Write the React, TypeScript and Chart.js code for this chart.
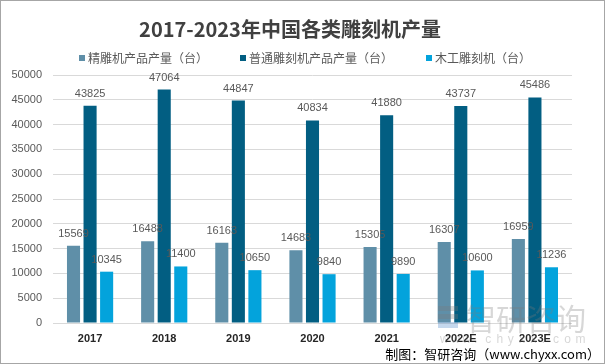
import React, { useEffect, useRef } from "react";
import { Chart, registerables } from "chart.js";

Chart.register(...registerables);

const title = "2017-2023年中国各类雕刻机产量";
const categories = ["2017", "2018", "2019", "2020", "2021", "2022E", "2023E"];
const seriesNames = ["精雕机产品产量（台）", "普通雕刻机产品产量（台）", "木工雕刻机（台）"];
const fineEngraving = [15569, 16488, 16163, 14683, 15305, 16307, 16959];
const generalEngraving = [43825, 47064, 44847, 40834, 41880, 43737, 45486];
const woodEngraving = [10345, 11400, 10650, 9840, 9890, 10600, 11236];
const seriesColors = ["#5F8FA8", "#025E82", "#03A3DC"];
const yMax = 50000;
const yStep = 5000;
const footer = "制图：智研咨询（www.chyxx.com）";

const NUM_FONT = '"Liberation Sans", "Noto Sans CJK SC", sans-serif';
const CJK_FONT = '"Noto Sans CJK SC", "Liberation Sans", sans-serif';

const decorPlugin = {
  id: "decor",
  beforeDraw(chart: any) {
    const ctx = chart.ctx;
    ctx.save();
    ctx.fillStyle = "#ffffff";
    ctx.fillRect(0, 0, chart.width, chart.height);
    ctx.restore();
  },
  afterDatasetsDraw(chart: any) {
    const ctx = chart.ctx;
    ctx.save();
    ctx.font = `11px ${NUM_FONT}`;
    ctx.fillStyle = "#595959";
    ctx.textAlign = "center";
    ctx.textBaseline = "alphabetic";
    chart.data.datasets.forEach((ds: any, i: number) => {
      const meta = chart.getDatasetMeta(i);
      meta.data.forEach((bar: any, j: number) => {
        ctx.fillText(String(ds.data[j]), bar.x, bar.y - 9);
      });
    });
    ctx.restore();
  },
  afterDraw(chart: any) {
    const ctx = chart.ctx;
    ctx.save();
    // title
    ctx.font = `bold 20px ${CJK_FONT}`;
    ctx.fillStyle = "#404040";
    ctx.textAlign = "center";
    ctx.textBaseline = "middle";
    ctx.fillText(title, 290, 29);

    // legend
    ctx.font = `12px ${CJK_FONT}`;
    ctx.textAlign = "left";
    const legendX = [79, 240, 426];
    seriesNames.forEach((name, i) => {
      ctx.fillStyle = seriesColors[i];
      ctx.fillRect(legendX[i], 55, 6, 6);
      ctx.fillStyle = "#595959";
      ctx.fillText(name, legendX[i] + 9, 58.5);
    });

    // watermark
    ctx.globalAlpha = 0.3;
    ctx.fillStyle = "#7a7a7a";
    ctx.fillRect(438, 306, 20, 5);
    ctx.fillRect(438, 314, 20, 5);
    ctx.fillStyle = "#3f7fc4";
    ctx.fillRect(438, 322, 20, 6);
    ctx.fillStyle = "#7a7a7a";
    ctx.font = `30px ${CJK_FONT}`;
    ctx.textBaseline = "middle";
    ctx.fillText("智研咨询", 466, 319);
    ctx.font = `12px ${NUM_FONT}`;
    const wm = "www.chyxx.com";
    for (let k = 0; k < wm.length; k++) {
      ctx.fillText(wm[k], 440 + k * 11.3, 340);
    }
    ctx.globalAlpha = 1;

    // footer
    ctx.font = `13px ${CJK_FONT}`;
    ctx.fillStyle = "#000000";
    ctx.textAlign = "right";
    ctx.fillText(footer, 600, 354);

    // frame
    ctx.strokeStyle = "#A6A6A6";
    ctx.lineWidth = 1;
    ctx.strokeRect(0.5, 0.5, chart.width - 1, chart.height - 1);
    ctx.restore();
  },
};

export default function App() {
  const ref = useRef<HTMLCanvasElement | null>(null);
  useEffect(() => {
    if (!ref.current) return;
    const chart = new Chart(ref.current, {
      type: "bar",
      data: {
        labels: categories,
        datasets: [fineEngraving, generalEngraving, woodEngraving].map((d, i) => ({
          label: seriesNames[i],
          data: d,
          backgroundColor: seriesColors[i],
          borderWidth: 0,
          categoryPercentage: 0.67,
          barPercentage: 0.79,
        })),
      },
      options: {
        responsive: false,
        animation: false,
        devicePixelRatio: 1,
        layout: { padding: { top: 75, left: 0, right: 33, bottom: 0 } },
        plugins: {
          legend: { display: false },
          title: { display: false },
          tooltip: { enabled: false },
        },
        scales: {
          x: {
            grid: { display: false, drawTicks: false },
            border: { display: false },
            ticks: {
              padding: 9,
              color: "#262626",
              font: { size: 11, weight: "bold", family: NUM_FONT },
            },
            afterFit: (s: any) => {
              s.height = 41;
            },
          },
          y: {
            min: 0,
            max: yMax,
            grid: { color: "#D9D9D9", drawTicks: false },
            border: { display: false },
            ticks: {
              stepSize: yStep,
              padding: 11,
              color: "#595959",
              font: { size: 11, family: NUM_FONT },
              callback: (v: any) => String(v),
            },
            afterFit: (s: any) => {
              s.width = 53;
            },
          },
        },
      },
      plugins: [decorPlugin],
    });
    return () => chart.destroy();
  }, []);
  return (
    <div style={{ position: "absolute", left: 0, top: 0, width: 605, height: 364 }}>
      <canvas ref={ref} width={605} height={364} style={{ display: "block" }} />
    </div>
  );
}
